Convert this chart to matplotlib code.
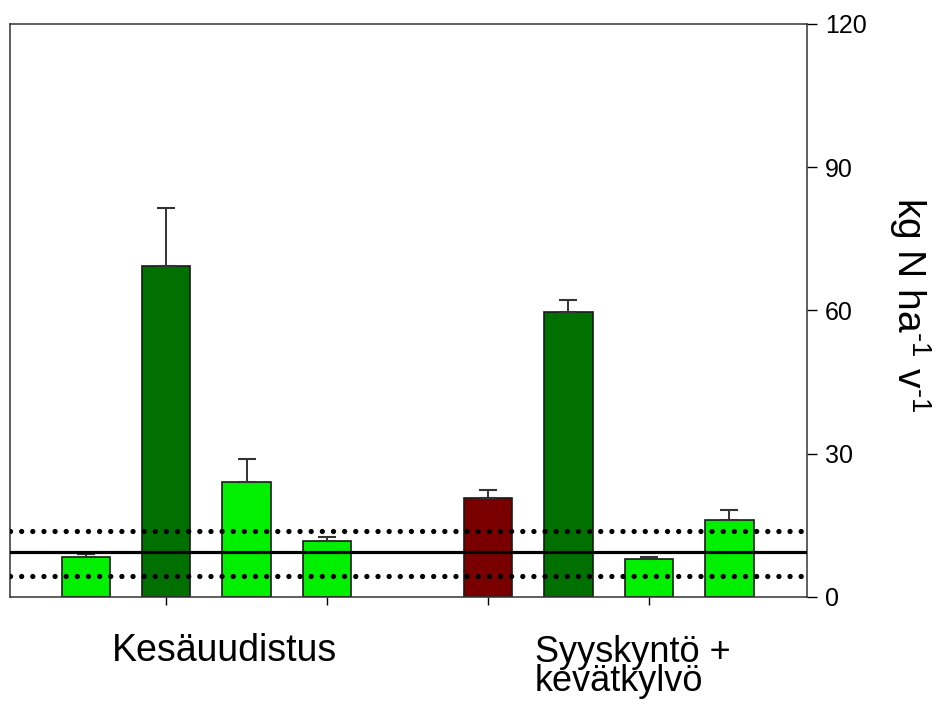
import matplotlib.pyplot as plt

plt.rcParams['font.family'] = ['Liberation Sans', 'DejaVu Sans']
plt.rcParams['mathtext.fontset'] = 'custom'
plt.rcParams['mathtext.rm'] = 'Liberation Sans'

# bar data (kg N / ha / v)
positions = [0, 1, 2, 3, 5, 6, 7, 8]
values = [8.4, 69.2, 24.1, 11.6, 20.8, 59.7, 8.0, 16.0]
errors = [0.6, 12.2, 4.8, 1.0, 1.5, 2.5, 0.4, 2.1]
colors = ['#00F000', '#007000', '#00F000', '#00F000',
          '#7A0000', '#007000', '#00F000', '#00F000']

# reference lines
ref_mean = 9.5
ref_low = 4.4
ref_high = 13.8

group_labels = ['Kesäuudistus', 'Syyskyntö +\nkevätkylvö']
yticks = [0, 30, 60, 90, 120]

fig = plt.figure(figsize=(9.45, 7.2), dpi=100)
ax = fig.add_axes([0.0106, 0.171, 0.843, 0.796])

ax.bar(positions, values, width=0.6, color=colors, edgecolor='#1a1a1a',
       linewidth=1.2, zorder=2)
ax.errorbar(positions, values, yerr=[[0] * len(errors), errors], fmt='none',
            ecolor='#333333', elinewidth=1.4, capsize=6.5, capthick=1.5, zorder=3)

ax.axhline(ref_mean, color='black', linewidth=2.3, zorder=4)
for y in (ref_low, ref_high):
    ax.axhline(y, color='black', linewidth=3.8, linestyle=(0, (0.01, 2.1)),
               dash_capstyle='round', zorder=4)

ax.set_xlim(-0.94, 8.96)
ax.set_ylim(0, 120)

ax.yaxis.tick_right()
ax.yaxis.set_label_position('right')
ax.set_yticks(yticks)
ax.tick_params(axis='y', direction='out', length=7, width=1, labelsize=18, pad=6)
ax.set_ylabel(r'kg N ha$^{\text{-1}}$ v$^{\text{-1}}$', fontsize=28, rotation=270)
ax.yaxis.set_label_coords(1.158, 0.51)

ax.set_xticks([1, 3, 5, 7])
ax.set_xticklabels([])
ax.tick_params(axis='x', direction='out', length=6, width=1)

for sp in ax.spines.values():
    sp.set_linewidth(1.1)
    sp.set_color('#333333')

ax.text(1.72, -0.112, group_labels[0], transform=ax.get_xaxis_transform(),
        ha='center', va='baseline', fontsize=27)
ax.text(5.58, -0.165, group_labels[1], transform=ax.get_xaxis_transform(),
        ha='left', va='baseline', fontsize=26, linespacing=0.78)

fig.savefig('out.png', dpi=100)
